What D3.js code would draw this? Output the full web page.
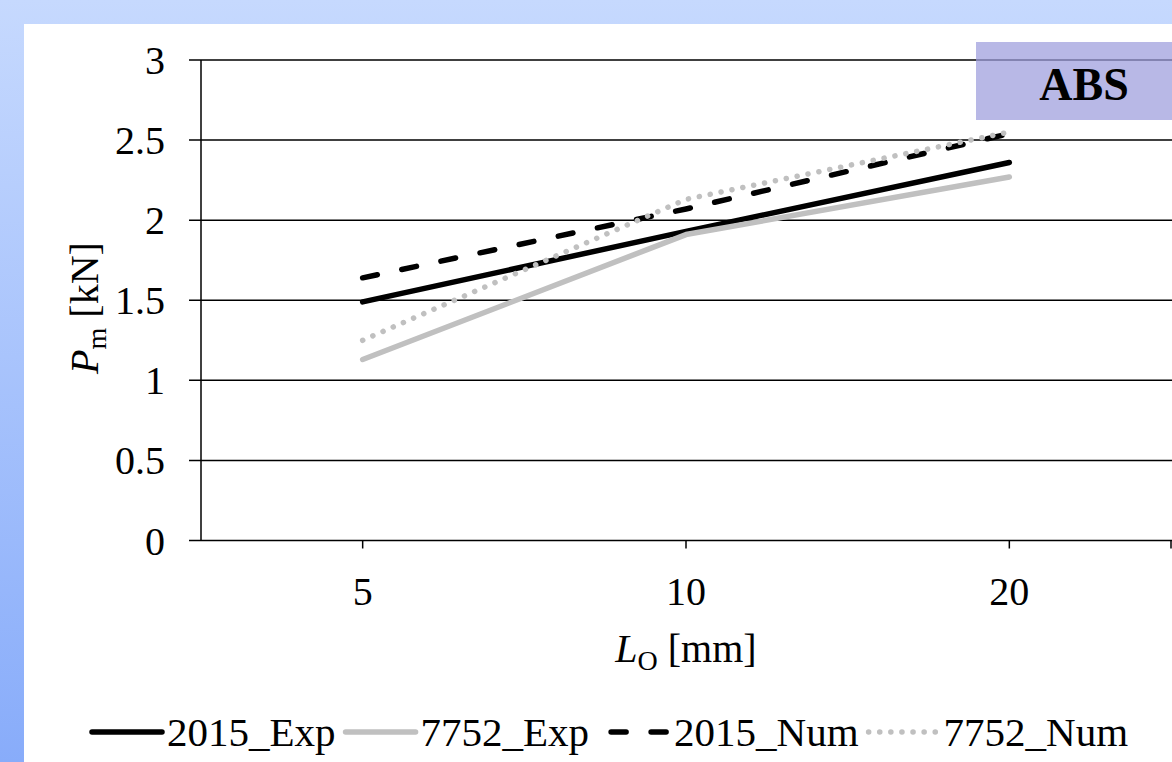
<!DOCTYPE html>
<html><head><meta charset="utf-8">
<script src="https://cdn.jsdelivr.net/npm/d3@7"></script>
<style>
body{margin:0;overflow:hidden;background:#fff}
text{font-family:"Liberation Serif","Times New Roman",serif;fill:#000}
</style>
</head><body><svg id="c" width="1172" height="762"></svg>
<script>
const categories = ["5", "10", "20"];
const yTicks = [0, 0.5, 1, 1.5, 2, 2.5, 3];
const yTickLabels = ["0", "0.5", "1", "1.5", "2", "2.5", "3"];
const seriesNames = ["2015_Exp", "7752_Exp", "2015_Num", "7752_Num"];
const exp2015 = [1.49, 1.93, 2.36];
const exp7752 = [1.13, 1.91, 2.27];
const num2015 = [1.64, 2.07, 2.54];
const num7752 = [1.25, 2.13, 2.55];
const panelTitle = "ABS";

const series = [
  {name: seriesNames[0], values: exp2015, color: "#000", dash: null},
  {name: seriesNames[1], values: exp7752, color: "#c0c0c0", dash: null},
  {name: seriesNames[2], values: num2015, color: "#000", dash: "15,25"},
  {name: seriesNames[3], values: num7752, color: "#c0c0c0", dash: "0.1,11"}
];

const W = 1172, H = 762;
const svg = d3.select("#c");
const defs = svg.append("defs");
const grad = defs.append("linearGradient").attr("id","bg").attr("x1",0).attr("y1",0).attr("x2",0).attr("y2",1);
grad.append("stop").attr("offset","0%").attr("stop-color","#c6d9fe");
grad.append("stop").attr("offset","100%").attr("stop-color","#88acfa");
svg.append("rect").attr("width",W).attr("height",H).attr("fill","url(#bg)");
svg.append("rect").attr("x",24).attr("y",24).attr("width",W-24).attr("height",H-24).attr("fill","#fff");

const plot = {left: 201, right: 1171, top: 60, bottom: 540.5};
const x = d3.scaleBand().domain(categories).range([plot.left, plot.right]).padding(0);
const cx = c => x(c) + x.bandwidth()/2;
const y = d3.scaleLinear().domain([0, 3]).range([plot.bottom, plot.top]);

// gridlines + y ticks
const g = svg.append("g");
g.selectAll("line.grid").data(yTicks).join("line")
  .attr("x1", 189).attr("x2", W).attr("y1", d => y(d)).attr("y2", d => y(d))
  .attr("stroke", "#000").attr("stroke-width", 1.5);
g.selectAll("text.yt").data(yTicks).join("text")
  .attr("x", 165).attr("y", d => y(d) + 14).attr("text-anchor","end")
  .attr("font-size", 40).text((d,i) => yTickLabels[i]);
// y axis line
g.append("line").attr("x1", plot.left).attr("x2", plot.left).attr("y1", plot.top).attr("y2", plot.bottom)
  .attr("stroke","#000").attr("stroke-width",1.5);
// x ticks
const xTickPos = categories.map(cx).concat([plot.right]);
g.selectAll("line.xt").data(xTickPos).join("line")
  .attr("x1", d => d).attr("x2", d => d).attr("y1", plot.bottom).attr("y2", plot.bottom + 8)
  .attr("stroke","#000").attr("stroke-width",1.5);
g.selectAll("text.xl").data(categories).join("text")
  .attr("x", d => cx(d)).attr("y", 605).attr("text-anchor","middle")
  .attr("font-size", 40).text(d => d);

// axis titles
const xt = svg.append("text").attr("x", 686).attr("y", 662).attr("text-anchor","middle").attr("font-size",40);
xt.append("tspan").attr("font-style","italic").text("L");
xt.append("tspan").attr("font-size",28).attr("dy",8).text("O");
xt.append("tspan").attr("dy",-8).text(" [mm]");

const yt = svg.append("text").attr("transform","translate(98,308) rotate(-90)").attr("text-anchor","middle").attr("font-size",40);
yt.append("tspan").attr("font-style","italic").text("P");
yt.append("tspan").attr("font-size",28).attr("dy",8).text("m");
yt.append("tspan").attr("dy",-8).text(" [kN]");

// lines
const line = d3.line().x((d,i) => cx(categories[i])).y(d => y(d));
svg.selectAll("path.s").data(series).join("path")
  .attr("d", d => line(d.values)).attr("fill","none")
  .attr("stroke", d => d.color).attr("stroke-width", 5.5)
  .attr("stroke-linecap","round").attr("stroke-linejoin","round")
  .attr("stroke-dasharray", d => d.dash);

// ABS box
svg.append("rect").attr("x", 976).attr("y", 42).attr("width", W - 976).attr("height", 78)
  .attr("fill", "rgb(156,156,220)").attr("fill-opacity", 0.72);
svg.append("text").attr("x", 1084).attr("y", 100).attr("text-anchor","middle")
  .attr("font-size", 46).attr("font-weight","bold").text(panelTitle);

// legend
const lg = svg.append("g");
let cursor = 0;
series.forEach(s => {
  const it = lg.append("g");
  it.append("line").attr("x1", 0).attr("x2", 70).attr("y1", 0).attr("y2", 0)
    .attr("stroke", s.color).attr("stroke-width", 5.5).attr("stroke-linecap","round")
    .attr("stroke-dasharray", s.dash)
    .attr("stroke-dashoffset", s.dash === "15,25" ? -12 : 0);
  const t = it.append("text").attr("x", 75).attr("y", 14).attr("font-size", 41).text(s.name);
  const w = 75 + t.node().getComputedTextLength();
  it.attr("transform", `translate(${cursor},0)`);
  cursor += w + 10;
});
lg.attr("transform", `translate(92,732)`);
</script>
</body></html>
